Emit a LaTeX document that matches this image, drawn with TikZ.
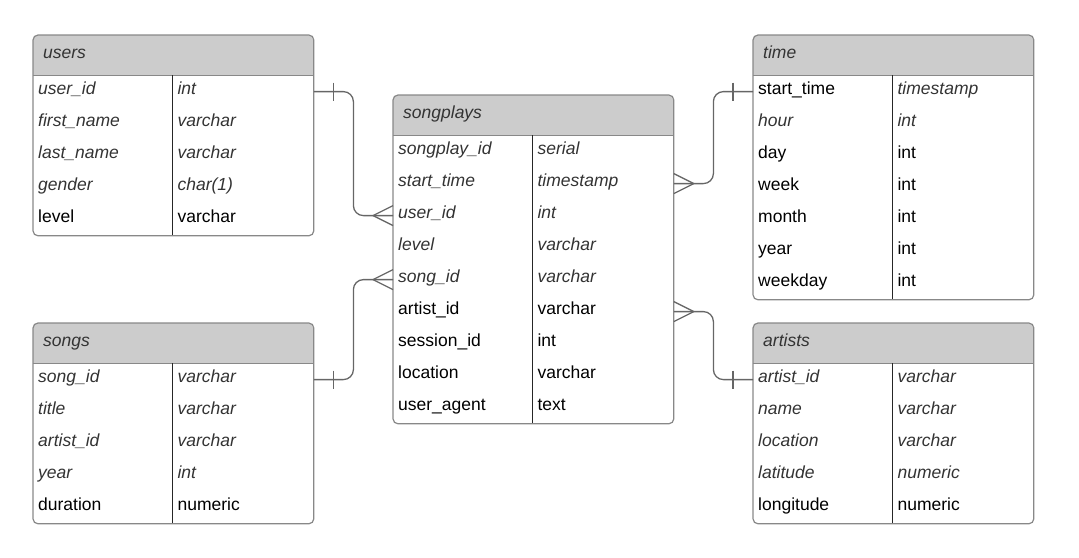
\documentclass[tikz,border=0pt]{standalone}
\usepackage{fontspec}
\setmainfont{Liberation Sans}
\usepackage{tikz}
\usetikzlibrary{calc}
\definecolor{headfill}{HTML}{CCCCCC}
\definecolor{tabborder}{HTML}{888888}
\definecolor{relgray}{HTML}{666666}
\tikzset{
  tabhead/.style={anchor=north west,inner xsep=10pt,inner ysep=0pt,text width=260pt,
    minimum height=40pt,text height=12pt,text depth=6pt,align=left,
    font=\fontsize{17.5}{20}\selectfont\itshape,text=black!80},
  fldcell/.style={anchor=north west,inner xsep=5pt,inner ysep=0pt,text width=129pt,
    minimum height=32pt,text height=12pt,text depth=6pt,align=left},
  typcell/.style={anchor=west,inner xsep=5pt,inner ysep=0pt,text width=131pt,
    minimum height=32pt,text height=12pt,text depth=6pt,align=left},
  ital/.style={font=\fontsize{17.5}{20}\selectfont\itshape,text=black!80},
  roman/.style={font=\fontsize{17.5}{20}\selectfont,text=black},
  tabline/.style={draw=tabborder,line width=1.2pt},
  coldiv/.style={draw=black!85,line width=1pt},
  relline/.style={draw=relgray,line width=1.3pt},
}
% table: name, north west corner, title, number of rows, rows
\newcommand{\erdtable}[5]{%
  \fill[headfill,rounded corners=5pt] #2 rectangle ++(280,40);
  \fill[headfill] ($#2+(0,20)$) rectangle ++(280,20);
  \node[tabhead] (#1) at #2 {#3};
  \foreach[count=\i] \fld/\typ/\fs/\ts in {#5}{
    \node[fldcell,\fs] (#1-\i) at ($(#1.south west)+(0,{32*(\i-1)})$) {\fld};
    \node[typcell,\ts] (#1-\i t) at (#1-\i.east) {\typ};
  }
  \draw[tabline] (#1.south west) -- (#1.south east);
  \draw[coldiv] (#1-1.north east) -- (#1-#4.south east);
  \draw[tabline,rounded corners=5pt] (#1.north west) rectangle (#1-#4t.south east);
}
% one / many ends; #2 = side (1 right, -1 left)
\newcommand{\onebar}[2]{\draw[relline] ($(#1)+(#2*20,-9)$) -- ($(#1)+(#2*20,9)$);}
\newcommand{\manyfoot}[2]{\draw[relline] (#1) ++(#2*20,0) -- ++(-#2*20,-10)
  (#1) ++(#2*20,0) -- ++(-#2*20,10);}

\begin{document}
\begin{tikzpicture}[x=1pt,y=-1pt]
\useasboundingbox (0,0) rectangle (1079,557);
\erdtable{users}{(33,35)}{users}{5}{user\_id/int/ital/ital, first\_name/varchar/ital/ital,
  last\_name/varchar/ital/ital, gender/char(1)/ital/ital, level/varchar/roman/roman}
\erdtable{songs}{(33,323)}{songs}{5}{song\_id/varchar/ital/ital, title/varchar/ital/ital,
  artist\_id/varchar/ital/ital, year/int/ital/ital, duration/numeric/roman/roman}
\erdtable{songplays}{(393,95)}{songplays}{9}{songplay\_id/serial/ital/ital,
  start\_time/timestamp/ital/ital, user\_id/int/ital/ital, level/varchar/ital/ital,
  song\_id/varchar/ital/ital, artist\_id/varchar/roman/roman, session\_id/int/roman/roman,
  location/varchar/roman/roman, user\_agent/text/roman/roman}
\erdtable{time}{(753,35)}{time}{7}{start\_time/timestamp/roman/ital, hour/int/ital/ital,
  day/int/roman/roman, week/int/roman/roman, month/int/roman/roman,
  year/int/roman/roman, weekday/int/roman/roman}
\erdtable{artists}{(753,323)}{artists}{5}{artist\_id/varchar/ital/ital, name/varchar/ital/ital,
  location/varchar/ital/ital, latitude/numeric/ital/ital, longitude/numeric/roman/roman}
% relations
\draw[relline,rounded corners=10pt] (users-1t.east) -| ($(users-1t.east)!.5!(songplays-3.west)$)
  |- (songplays-3.west);
\draw[relline,rounded corners=10pt] (songs-1t.east) -| ($(songs-1t.east)!.5!(songplays-5.west)$)
  |- (songplays-5.west);
\draw[relline,rounded corners=10pt] (songplays-2t.east) -| ($(songplays-2t.east)!.5!(time-1.west)$)
  |- (time-1.west);
\draw[relline,rounded corners=10pt] (songplays-6t.east) -| ($(songplays-6t.east)!.5!(artists-1.west)$)
  |- (artists-1.west);
\onebar{users-1t.east}{1}
\onebar{songs-1t.east}{1}
\onebar{time-1.west}{-1}
\onebar{artists-1.west}{-1}
\manyfoot{songplays-3.west}{-1}
\manyfoot{songplays-5.west}{-1}
\manyfoot{songplays-2t.east}{1}
\manyfoot{songplays-6t.east}{1}
\end{tikzpicture}
\end{document}
